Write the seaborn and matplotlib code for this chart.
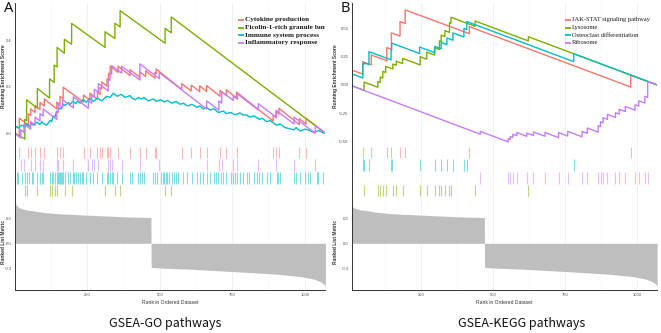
import numpy as np
import pandas as pd
import matplotlib
matplotlib.use('Agg')
import matplotlib.pyplot as plt
import seaborn as sns

sns.set_theme(style='white')
plt.rcParams['font.family'] = ['Liberation Sans', 'DejaVu Sans']

N_GENES = 1070
RED, GREEN, CYAN, PURPLE = '#F8766D', '#7CAE00', '#00BFC4', '#C77CFF'

# ranked list metric, read at a few ranks
metric_rank = [1, 4, 10, 20, 40, 64, 100, 150, 237, 300, 400, 469, 470, 520, 600, 755, 900, 985, 1030, 1053, 1065, 1070]
metric_val = [0.52, 0.47, 0.44, 0.42, 0.40, 0.39, 0.37, 0.355, 0.34, 0.33, 0.315, 0.31,
              -0.29, -0.30, -0.31, -0.34, -0.37, -0.40, -0.43, -0.46, -0.49, -0.51]

# ---------------- A: GO ----------------
go_names = ['Cytokine production', 'Ficolin-1-rich granule lumen',
            'Immune system process', 'Inflammatory response']

cyto_hits = [16, 47, 55, 70, 87, 102, 145, 156, 167, 237, 259, 285, 294, 300, 318, 323, 329, 356,
             397, 430, 451, 483, 487, 575, 608, 637, 661, 707, 729, 764, 890, 901, 910, 980, 1003]
cyto_before = [-0.015, 0.035, 0.077, 0.09, 0.103, 0.118, 0.105, 0.124, 0.149, 0.135, 0.143, 0.147,
               0.168, 0.192, 0.204, 0.229, 0.253, 0.263, 0.25, 0.242, 0.245, 0.238, 0.258, 0.19,
               0.183, 0.18, 0.181, 0.16, 0.163, 0.153, 0.053, 0.067, 0.083, 0.038, 0.04]
cyto_after = [0.065, 0.085, 0.105, 0.12, 0.133, 0.148, 0.135, 0.16, 0.199, 0.165, 0.173, 0.177,
              0.198, 0.222, 0.234, 0.259, 0.29, 0.29, 0.275, 0.266, 0.27, 0.262, 0.278, 0.215,
              0.208, 0.205, 0.206, 0.185, 0.188, 0.178, 0.078, 0.092, 0.108, 0.063, 0.065]

fico_hits = [35, 41, 78, 120, 136, 146, 171, 196, 311, 345, 363, 518, 539]
fico_before = [-0.025, 0.055, 0.108, 0.152, 0.22, 0.287, 0.346, 0.385, 0.371, 0.41, 0.46, 0.389, 0.434]
fico_after = [0.06, 0.145, 0.194, 0.235, 0.295, 0.371, 0.406, 0.475, 0.439, 0.475, 0.53, 0.454, 0.503]
fico_rug = [35, 41, 78, 120, 128, 139, 146, 173, 196, 311, 345, 363, 518, 539]

immune_rank = [1, 7, 12, 24, 35, 41, 50, 58, 64, 76, 87, 93, 99, 110, 122, 127, 133, 139, 144, 148,
               153, 160, 168, 173, 185, 190, 200, 211, 217, 225, 236, 246, 259, 271, 285, 299, 317,
               328, 340, 353, 368, 380, 397, 404, 415, 426, 437, 445, 460, 478, 489, 503, 515, 526,
               541, 556, 570, 581, 595, 611, 627, 638, 650, 661, 673, 686, 701, 719, 728, 744, 759,
               776, 785, 801, 808, 824, 843, 852, 868, 879, 902, 914, 930, 962, 969, 983, 1000,
               1017, 1030, 1046, 1063, 1070]
immune_es = [0.02, 0.03, 0.022, 0.035, 0.028, 0.04, 0.03, 0.042, 0.035, 0.048, 0.038, 0.05, 0.043,
             0.035, 0.055, 0.05, 0.075, 0.07, 0.095, 0.09, 0.11, 0.105, 0.125, 0.12, 0.133, 0.124,
             0.138, 0.128, 0.14, 0.13, 0.145, 0.134, 0.15, 0.138, 0.152, 0.14, 0.16, 0.155, 0.173,
             0.16, 0.168, 0.155, 0.163, 0.152, 0.145, 0.155, 0.148, 0.155, 0.14, 0.148, 0.138, 0.145,
             0.135, 0.142, 0.13, 0.138, 0.125, 0.13, 0.118, 0.125, 0.112, 0.118, 0.105, 0.112, 0.1,
             0.106, 0.09, 0.096, 0.085, 0.09, 0.08, 0.088, 0.08, 0.078, 0.07, 0.075, 0.06, 0.065,
             0.05, 0.055, 0.035, 0.04, 0.025, 0.015, 0.025, 0.01, 0.018, 0.012, 0.003, 0.012, 0.002, 0.0]
immune_rug = [1, 7, 12, 24, 35, 41, 50, 58, 64, 76, 87, 93, 99, 122, 127, 133, 139, 144, 148, 153,
              156, 160, 164, 168, 173, 185, 190, 200, 205, 211, 217, 225, 231, 236, 246, 259, 271,
              285, 299, 317, 322, 328, 334, 340, 353, 368, 397, 404, 426, 432, 437, 445, 478, 483,
              489, 503, 510, 515, 521, 526, 533, 541, 549, 556, 564, 581, 595, 611, 627, 638, 650,
              661, 673, 686, 693, 701, 709, 719, 728, 744, 751, 759, 767, 776, 785, 801, 808, 824,
              833, 843, 852, 868, 879, 902, 908, 914, 962, 969, 983, 1000, 1009, 1017, 1040, 1046, 1063]

infl_hits = [21, 32, 55, 70, 87, 98, 145, 150, 165, 202, 254, 265, 274, 288, 322, 328, 334, 368,
             431, 498, 661, 703, 713, 753, 767, 839, 900, 962, 1035]
infl_before = [-0.02, 0.004, 0.018, 0.035, 0.053, 0.074, 0.06, 0.09, 0.11, 0.11, 0.108, 0.13, 0.156,
               0.177, 0.183, 0.229, 0.256, 0.26, 0.23, 0.236, 0.105, 0.1, 0.13, 0.142, 0.147, 0.1,
               0.07, 0.04, 0.0]
infl_after = [0.015, 0.04, 0.05, 0.07, 0.085, 0.105, 0.095, 0.125, 0.145, 0.158, 0.14, 0.165, 0.19,
              0.215, 0.235, 0.262, 0.292, 0.29, 0.30, 0.262, 0.14, 0.14, 0.18, 0.16, 0.17, 0.128,
              0.1, 0.07, 0.034]

# ---------------- B: KEGG ----------------
kegg_names = ['JAK-STAT signaling pathway', 'Lysosome', 'Osteoclast differentiation', 'Ribosome']

jak_hits = [10, 46, 76, 130, 146, 176, 194, 417, 978]
jak_before = [-0.009, 0.097, 0.177, 0.214, 0.315, 0.432, 0.543, 0.453, -0.018]
jak_after = [0.13, 0.205, 0.265, 0.33, 0.46, 0.56, 0.663, 0.515, 0.087]

lyso_hits = [51, 99, 107, 116, 126, 151, 163, 185, 246, 269, 296, 313, 319, 332, 348, 353, 437, 622]
lyso_before = [-0.048, -0.02, 0.022, 0.061, 0.11, 0.141, 0.174, 0.189, 0.177, 0.228, 0.264, 0.314,
               0.384, 0.428, 0.465, 0.545, 0.518, 0.389]
lyso_after = [0.025, 0.03, 0.07, 0.12, 0.165, 0.185, 0.21, 0.235, 0.25, 0.29, 0.33, 0.39, 0.44,
              0.48, 0.55, 0.598, 0.565, 0.426]

osteo_hits = [10, 47, 52, 68, 145, 147, 244, 297, 319, 339, 360, 398, 408, 780]
osteo_before = [-0.009, 0.062, 0.185, 0.18, 0.222, 0.308, 0.278, 0.285, 0.32, 0.356, 0.395, 0.424, 0.49, 0.206]
osteo_after = [0.097, 0.19, 0.195, 0.294, 0.31, 0.37, 0.335, 0.34, 0.375, 0.415, 0.46, 0.5, 0.56, 0.276]

ribo_hits = [455, 552, 559, 568, 582, 617, 640, 680, 727, 759, 809, 827, 865, 873, 882, 897, 925,
             938, 959, 993, 1006, 1027, 1037]
ribo_before = [-0.435, -0.503, -0.482, -0.464, -0.448, -0.454, -0.447, -0.453, -0.465, -0.451,
               -0.458, -0.427, -0.416, -0.368, -0.334, -0.304, -0.287, -0.257, -0.235, -0.223,
               -0.187, -0.16, -0.11]
ribo_after = [-0.41, -0.475, -0.455, -0.435, -0.42, -0.425, -0.415, -0.42, -0.42, -0.41, -0.41,
              -0.38, -0.36, -0.325, -0.29, -0.26, -0.245, -0.215, -0.19, -0.175, -0.14, -0.1, 0.031]


def es_path(hits, before, after):
    xs, ys = [1], [0.0]
    for h, b, a in zip(hits, before, after):
        xs += [h, h]
        ys += [b, a]
    xs.append(N_GENES)
    ys.append(0.0)
    return xs, ys


FIG_W, FIG_H = 661, 333
fig = plt.figure(figsize=(FIG_W / 100, FIG_H / 100), dpi=100)


def px_axes(x0, x1, y0, y1):
    return fig.add_axes([x0 / FIG_W, 1 - y1 / FIG_H, (x1 - x0) / FIG_W, (y1 - y0) / FIG_H])


def style(ax, xlim, bottom=False):
    ax.set_facecolor('white')
    ax.set_xlim(*xlim)
    for s in ['top', 'right']:
        ax.spines[s].set_visible(False)
    ax.spines['bottom'].set_visible(bottom)
    ax.spines['left'].set_color('#333333')
    ax.spines['left'].set_linewidth(0.7)
    ax.spines['bottom'].set_color('#333333')
    ax.spines['bottom'].set_linewidth(0.7)
    ax.set_xticks([250, 500, 750, 1000])
    ax.set_xticks([125, 375, 625, 875], minor=True)
    ax.grid(axis='x', which='major', color='#EBEBEB', lw=0.5)
    ax.grid(axis='x', which='minor', color='#F3F3F3', lw=0.35)
    ax.grid(axis='y', visible=False)
    ax.tick_params(axis='both', which='both', labelsize=3.0, colors='#4D4D4D',
                   length=1.5, width=0.5, pad=0.8)
    ax.tick_params(axis='x', which='minor', length=0)


def draw_panel(x0, x1, xlim, es_ylim, es_y1, es_ticks, es_ticklabels, lines, rugs,
               legend_x, names, legend_weight, legend_size, title, title_x, letter, letter_x, ylab_x):
    # running enrichment score
    ax1 = px_axes(x0, x1, 3, es_y1)
    style(ax1, xlim)
    for xs, ys, c in lines:
        sns.lineplot(x=xs, y=ys, sort=False, estimator=None, color=c, lw=1.0, ax=ax1)
    ax1.set_ylim(*es_ylim)
    ax1.set_yticks(es_ticks)
    ax1.set_yticklabels(es_ticklabels)
    ax1.tick_params(axis='x', which='both', length=0, labelbottom=False)
    fig.text(ylab_x / FIG_W, 1 - 76 / FIG_H, 'Running Enrichment Score', rotation=90,
             fontsize=3.5, color='#333333', fontweight='bold', ha='center', va='center')

    # legend, clipped at the panel edge
    cols = [RED, GREEN, CYAN, PURPLE]
    w = x1 - x0
    h = es_y1 - 3
    for i, (nm, c) in enumerate(zip(names, cols)):
        yy = (es_y1 - (20 + 7.6 * i)) / h
        ax1.plot([(legend_x - x0) / w, (legend_x + 6 - x0) / w], [yy, yy],
                 transform=ax1.transAxes, color=c, lw=1.3, solid_capstyle='butt')
        ax1.text((legend_x + 7 - x0) / w, yy, nm, transform=ax1.transAxes,
                 fontsize=legend_size, family=['Liberation Serif'], fontweight=legend_weight,
                 va='center', ha='left', color='#1A1A1A', clip_on=True)

    # rug rows
    ax2 = px_axes(x0, x1, 146, 197)
    style(ax2, xlim)
    for i, (pos, c) in enumerate(rugs):
        ax2.vlines(pos, i + 0.04, i + 0.96, color=c, lw=0.8, alpha=0.5)
    ax2.set_ylim(len(rugs), 0)
    ax2.set_yticks([])
    ax2.tick_params(axis='x', which='both', length=0, labelbottom=False)

    # ranked list metric
    ax3 = px_axes(x0, x1, 197, 290)
    style(ax3, xlim, bottom=True)
    ax3.fill_between(metric_rank, 0, metric_val, color='#BEBEBE', lw=0)
    ax3.set_ylim(-0.561, 0.556)
    ax3.set_yticks([0.3, 0.0, -0.3])
    ax3.set_yticklabels(['0.3', '0.0', '-0.3'])
    ax3.set_xticklabels(['250', '500', '750', '1000'])
    ax3.set_xlabel('Rank in Ordered Dataset', fontsize=3.6, color='#333333', labelpad=2)
    fig.text(ylab_x / FIG_W, 1 - 242 / FIG_H, 'Ranked List Metric', rotation=90,
             fontsize=3.5, color='#333333', fontweight='bold', ha='center', va='center')

    fig.text(title_x / FIG_W, 1 - 323 / FIG_H, title, fontsize=9,
             family=['Noto Sans CJK SC', 'DejaVu Sans'], ha='center', va='center', color='#111111')
    fig.text(letter_x / FIG_W, 1 - 9 / FIG_H, letter, fontsize=10.5,
             family=['Noto Sans', 'DejaVu Sans'], ha='center', va='center', color='#111111')


go_lines = [es_path(cyto_hits, cyto_before, cyto_after) + (RED,),
            es_path(fico_hits, fico_before, fico_after) + (GREEN,),
            (immune_rank, immune_es, CYAN),
            es_path(infl_hits, infl_before, infl_after) + (PURPLE,)]
go_rugs = [(cyto_hits, RED), (infl_hits, PURPLE), (immune_rug, CYAN), (fico_rug, GREEN)]

kegg_lines = [es_path(jak_hits, jak_before, jak_after) + (RED,),
              es_path(lyso_hits, lyso_before, lyso_after) + (GREEN,),
              es_path(osteo_hits, osteo_before, osteo_after) + (CYAN,),
              es_path(ribo_hits, ribo_before, ribo_after) + (PURPLE,)]
kegg_rugs = [(jak_hits, RED), (osteo_hits, CYAN), (ribo_hits, PURPLE), (lyso_hits, GREEN)]

draw_panel(14.7, 325.4, (0, 1070), (-0.055, 0.563), 146, [0.0, 0.2, 0.4], ['0.0', '0.2', '0.4'],
           go_lines, go_rugs, 238, go_names, 'bold', 5.2, 'GSEA-GO pathways', 165, 'A', 9, 3.2)
draw_panel(351.7, 656.6, (8, 1068), (-0.548, 0.724), 147, [-0.5, -0.25, 0.0, 0.25, 0.5],
           ['-0.50', '-0.25', '0.00', '0.25', '0.50'],
           kegg_lines, kegg_rugs, 565, kegg_names, 'normal', 4.7, 'GSEA-KEGG pathways', 522, 'B', 345, 335.5)

fig.savefig('out.png', dpi=100, facecolor='white')
